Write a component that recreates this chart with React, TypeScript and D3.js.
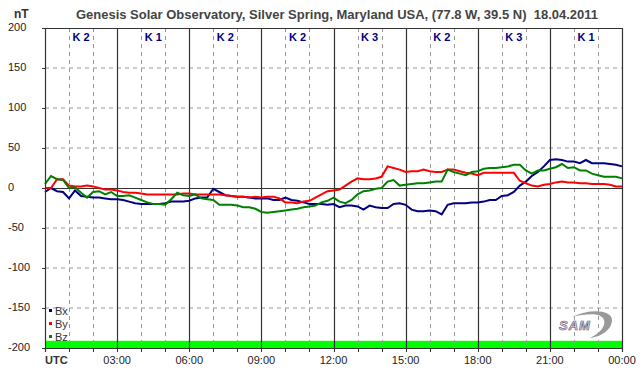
import React from "react";
import * as d3 from "d3";

const TITLE = "Genesis Solar Observatory, Silver Spring, Maryland USA, (77.8 W, 39.5 N)  18.04.2011";
const yTicks = [200, 150, 100, 50, 0, -50, -100, -150, -200];
const xTickLabels = ["UTC", "03:00", "06:00", "09:00", "12:00", "15:00", "18:00", "21:00", "00:00"];
const kLabels = ["K 2", "K 1", "K 2", "K 2", "K 3", "K 2", "K 3", "K 1"];
const seriesNames = ["Bx", "By", "Bz"];
const seriesColors = ["#000080", "#ff0000", "#008000"];

// 15-minute samples, 00:00 .. 24:00 (97 values)
const bx = [
  -5, 0, -4, -5, -13, -3, -10, -11, -12, -12, -13, -14, -14, -15, -17, -19, -20, -20, -20, -20, -19, -17, -17, -17, -16,
  -13, -12, -12, -1, -5, -9, -10, -11, -11, -12, -13, -13, -13, -15, -15, -12, -15, -16, -18, -20, -20, -20, -21, -20,
  -24, -22, -22, -23, -27, -22, -24, -25, -25, -20, -19, -21, -27, -29, -29, -28, -29, -33, -21, -19, -19, -19, -18, -18,
  -17, -15, -15, -10, -9, -5, 3, 8, 15, 20, 27, 35, 36, 35, 33, 33, 31, 35, 31, 31, 31, 30, 29, 27,
];
const by = [
  0, 0, 11, 11, 3, 2, 2, 3, 2, 0, -2, -2, -3, -5, -6, -6, -7, -8, -8, -8, -8, -8, -8, -7, -7,
  -8, -8, -8, -8, -8, -9, -10, -11, -11, -12, -11, -12, -11, -11, -13, -18, -18, -19, -17, -16, -12, -8, -4, -3,
  -2, 3, 8, 12, 11, 11, 12, 14, 27, 25, 23, 20, 21, 21, 23, 21, 20, 20, 23, 23, 21, 19, 18, 16,
  19, 19, 19, 19, 19, 19, 9, 6, 3, 2, 4, 5, 7, 8, 7, 7, 6, 6, 5, 5, 5, 4, 2, 2,
];
const bz = [
  5, 15, 11, 10, 0, 1, -6, -12, -5, -4, -8, -5, -10, -10, -9, -12, -15, -18, -20, -20, -21, -14, -6, -9, -10,
  -8, -13, -14, -15, -21, -21, -21, -22, -24, -24, -26, -30, -31, -30, -29, -28, -27, -26, -24, -23, -22, -18, -16, -12,
  -17, -19, -15, -8, -4, -3, -1, 0, 8, 10, 3, 4, 5, 6, 6, 7, 8, 8, 23, 20, 18, 16, 20, 21,
  24, 25, 25, 26, 27, 29, 29, 22, 18, 22, 22, 24, 26, 30, 25, 26, 22, 22, 18, 16, 14, 14, 14, 12,
];
const allSeries = [bx, by, bz];

export default function App() {
  const W = 642, H = 376;
  const L = 45, R = 622, T = 28, B = 348;
  const x = d3.scaleLinear().domain([0, 24]).range([L, R]);
  const y = d3.scaleLinear().domain([-200, 200]).range([B, T]);
  const line = d3.line<number>().x((_, i) => x(i * 0.25)).y((d) => y(d));
  const hours = d3.range(0, 25);
  const font = "'Liberation Sans', Arial, sans-serif";
  const axisColor = "#333";

  return (
    <svg width={W} height={H} style={{ position: "absolute", left: 0, top: 0, background: "#fff" }} fontFamily={font}>
      <rect x={0} y={0} width={W} height={H} fill="#fff" />
      <text x={337} y={19} textAnchor="middle" fontSize={13} fontWeight="bold" fill="#444" style={{ whiteSpace: "pre" }}>{TITLE}</text>
      <text x={14} y={18} fontSize={12} fontWeight="bold" fill="#333">nT</text>

      {/* green band */}
      <rect x={L} y={y(-191)} width={R - L} height={B - y(-191)} fill="#00ff00" />

      {/* horizontal grid */}
      {yTicks.filter((v) => v !== 200 && v !== -200 && v !== 0).map((v) => (
        <line key={"hg" + v} x1={L} x2={R} y1={y(v)} y2={y(v)} stroke="#999" strokeDasharray="4,4" />
      ))}
      {/* vertical grid */}
      {hours.filter((h) => h % 3 !== 0).map((h) => (
        <line key={"vg" + h} x1={Math.round(x(h)) + 0.5} x2={Math.round(x(h)) + 0.5} y1={T} y2={B} stroke="#999" strokeDasharray="4,4" />
      ))}
      {hours.filter((h) => h % 3 === 0 && h > 0 && h < 24).map((h) => (
        <line key={"vs" + h} x1={Math.round(x(h)) + 0.5} x2={Math.round(x(h)) + 0.5} y1={T} y2={B} stroke={axisColor} strokeWidth={1.2} />
      ))}
      <line x1={L} x2={R} y1={y(0) + 0.5} y2={y(0) + 0.5} stroke={axisColor} strokeWidth={1.2} />

      {/* K indices */}
      {kLabels.map((k, i) => (
        <text key={"k" + i} x={x(i * 3 + 1.5)} y={41} textAnchor="middle" fontSize={11} fontWeight="bold" fill="#000080">{k}</text>
      ))}

      {/* data */}
      {allSeries.map((s, i) => (
        <path key={"s" + i} d={line(s) || ""} fill="none" stroke={seriesColors[i]} strokeWidth={2} strokeLinejoin="miter" />
      ))}

      {/* frame */}
      <line x1={L + 0.5} x2={L + 0.5} y1={T} y2={B + 4} stroke={axisColor} strokeWidth={1.2} />
      <line x1={L} x2={R} y1={T + 0.5} y2={T + 0.5} stroke={axisColor} strokeWidth={1.2} />
      <line x1={R + 0.5} x2={R + 0.5} y1={T} y2={B + 4} stroke={axisColor} strokeWidth={1.2} />
      <line x1={L} x2={R} y1={B + 0.5} y2={B + 0.5} stroke={axisColor} strokeWidth={1.2} />

      {/* y ticks */}
      {yTicks.map((v) => (
        <g key={"yt" + v}>
          <line x1={L - 3} x2={L} y1={y(v) + 0.5} y2={y(v) + 0.5} stroke={axisColor} />
          <text x={8} y={y(v) + 3} fontSize={11} fill="#222">{v}</text>
        </g>
      ))}
      {/* x ticks */}
      {hours.map((h) => (
        <line key={"xt" + h} x1={Math.round(x(h)) + 0.5} x2={Math.round(x(h)) + 0.5} y1={B} y2={B + 4} stroke={axisColor} />
      ))}
      {xTickLabels.map((t, i) => (
        i === 0 ? (
          <text key={"xl" + i} x={L} y={364} fontSize={11} fontWeight="bold" fill="#333">{t}</text>
        ) : (
          <text key={"xl" + i} x={x(i * 3)} y={364} textAnchor="middle" fontSize={11} fill="#222">{t}</text>
        )
      ))}

      {/* legend */}
      {seriesNames.map((n, i) => (
        <g key={"lg" + i}>
          <rect x={49} y={309 + i * 13} width={3} height={3} fill={seriesColors[i]} />
          <text x={55} y={315 + i * 13} fontSize={11} fill="#333">{n}</text>
        </g>
      ))}

      {/* SAM logo */}
      <g>
        <path d="M572,317 C590,308 612,310 612,320 C612,330 600,337 590,338 C600,333 606,326 604,320 C602,313 588,313 572,317 Z" fill="#999" />
        <text x={559} y={330} fontSize={13} fontStyle="italic" fontWeight="bold" fill="#dde" stroke="#557" strokeWidth={0.6} letterSpacing={1}>SAM</text>
      </g>
    </svg>
  );
}
